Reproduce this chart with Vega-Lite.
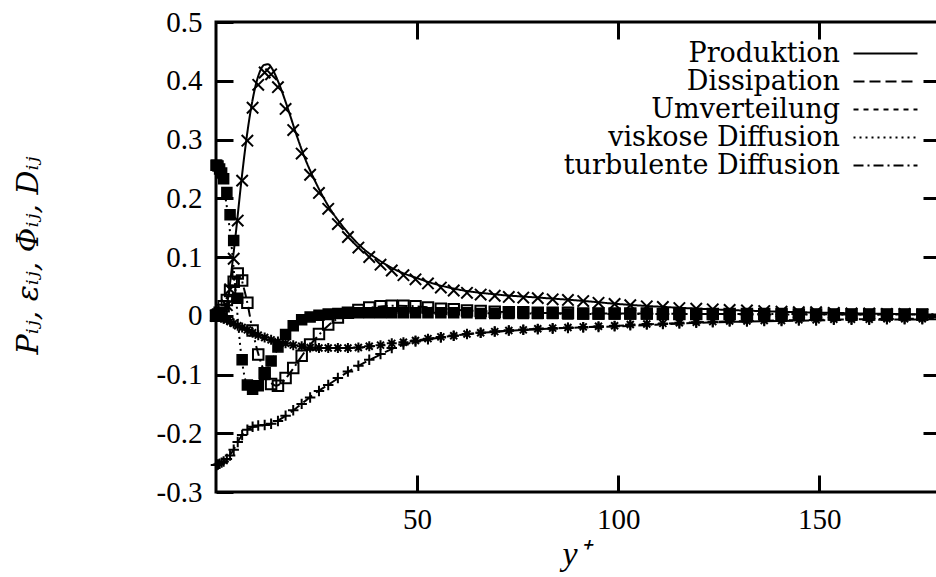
{
  "$schema": "https://vega.github.io/schema/vega-lite/v6.json",
  "autosize": {"type": "none"},
  "padding": {"left": 216, "top": 22, "right": -4, "bottom": 85},
  "width": 724,
  "height": 470,
  "background": "white",
  "config": {
    "view": {"stroke": "black", "strokeWidth": 3, "fill": null},
    "axis": {
      "grid": false,
      "domain": false,
      "tickColor": "black",
      "tickWidth": 3,
      "tickSize": -17,
      "labelFont": "Liberation Serif",
      "labelFontSize": 29,
      "labelColor": "black",
      "titleColor": "black",
      "titleFontWeight": "normal"
    }
  },
  "datasets": {
    "dns": [
      {"yp": 0, "P": 0, "eps": -0.254, "Phi": 0, "Dv": 0.256, "Dt": 0},
      {"yp": 0.2, "P": 0, "eps": -0.254, "Phi": 0, "Dv": 0.256, "Dt": 0},
      {"yp": 0.5, "P": 0, "eps": -0.253, "Phi": -0.001, "Dv": 0.255, "Dt": 0.002},
      {"yp": 0.9, "P": 0.001, "eps": -0.252, "Phi": -0.002, "Dv": 0.25, "Dt": 0.005},
      {"yp": 1.4, "P": 0.003, "eps": -0.25, "Phi": -0.003, "Dv": 0.243, "Dt": 0.01},
      {"yp": 1.9, "P": 0.006, "eps": -0.248, "Phi": -0.005, "Dv": 0.233, "Dt": 0.016},
      {"yp": 2.7, "P": 0.018, "eps": -0.244, "Phi": -0.007, "Dv": 0.21, "Dt": 0.027},
      {"yp": 3.5, "P": 0.045, "eps": -0.238, "Phi": -0.01, "Dv": 0.172, "Dt": 0.042},
      {"yp": 4.4, "P": 0.097, "eps": -0.228, "Phi": -0.013, "Dv": 0.128, "Dt": 0.058},
      {"yp": 5.4, "P": 0.162, "eps": -0.215, "Phi": -0.017, "Dv": 0.03, "Dt": 0.072},
      {"yp": 6.5, "P": 0.23, "eps": -0.203, "Phi": -0.02, "Dv": -0.075, "Dt": 0.06},
      {"yp": 7.8, "P": 0.298, "eps": -0.194, "Phi": -0.024, "Dv": -0.118, "Dt": 0.022},
      {"yp": 9.1, "P": 0.354, "eps": -0.189, "Phi": -0.029, "Dv": -0.125, "Dt": -0.025},
      {"yp": 10.5, "P": 0.393, "eps": -0.187, "Phi": -0.033, "Dv": -0.119, "Dt": -0.066},
      {"yp": 12.1, "P": 0.414, "eps": -0.186, "Phi": -0.037, "Dv": -0.1, "Dt": -0.098},
      {"yp": 13.7, "P": 0.411, "eps": -0.184, "Phi": -0.041, "Dv": -0.077, "Dt": -0.116},
      {"yp": 15.4, "P": 0.389, "eps": -0.179, "Phi": -0.044, "Dv": -0.053, "Dt": -0.119},
      {"yp": 17.3, "P": 0.352, "eps": -0.17, "Phi": -0.047, "Dv": -0.032, "Dt": -0.106},
      {"yp": 19.2, "P": 0.316, "eps": -0.161, "Phi": -0.05, "Dv": -0.017, "Dt": -0.089},
      {"yp": 21.3, "P": 0.276, "eps": -0.15, "Phi": -0.052, "Dv": -0.007, "Dt": -0.068},
      {"yp": 23.4, "P": 0.24, "eps": -0.139, "Phi": -0.054, "Dv": -0.002, "Dt": -0.049},
      {"yp": 25.6, "P": 0.209, "eps": -0.128, "Phi": -0.055, "Dv": 0.001, "Dt": -0.031},
      {"yp": 27.9, "P": 0.182, "eps": -0.118, "Phi": -0.055, "Dv": 0.003, "Dt": -0.015},
      {"yp": 30.3, "P": 0.156, "eps": -0.106, "Phi": -0.055, "Dv": 0.004, "Dt": -0.003},
      {"yp": 32.8, "P": 0.134, "eps": -0.095, "Phi": -0.055, "Dv": 0.005, "Dt": 0.005},
      {"yp": 35.4, "P": 0.116, "eps": -0.085, "Phi": -0.054, "Dv": 0.005, "Dt": 0.01},
      {"yp": 38.1, "P": 0.1, "eps": -0.075, "Phi": -0.052, "Dv": 0.005, "Dt": 0.014},
      {"yp": 40.9, "P": 0.087, "eps": -0.065, "Phi": -0.05, "Dv": 0.005, "Dt": 0.016},
      {"yp": 43.7, "P": 0.077, "eps": -0.055, "Phi": -0.047, "Dv": 0.005, "Dt": 0.017},
      {"yp": 46.6, "P": 0.069, "eps": -0.049, "Phi": -0.045, "Dv": 0.005, "Dt": 0.017},
      {"yp": 49.6, "P": 0.062, "eps": -0.044, "Phi": -0.042, "Dv": 0.005, "Dt": 0.016},
      {"yp": 52.7, "P": 0.055, "eps": -0.04, "Phi": -0.039, "Dv": 0.005, "Dt": 0.014},
      {"yp": 55.9, "P": 0.048, "eps": -0.037, "Phi": -0.036, "Dv": 0.005, "Dt": 0.012},
      {"yp": 59.1, "P": 0.043, "eps": -0.034, "Phi": -0.034, "Dv": 0.005, "Dt": 0.011},
      {"yp": 62.4, "P": 0.039, "eps": -0.031, "Phi": -0.031, "Dv": 0.005, "Dt": 0.009},
      {"yp": 65.8, "P": 0.036, "eps": -0.029, "Phi": -0.029, "Dv": 0.004, "Dt": 0.008},
      {"yp": 69.3, "P": 0.034, "eps": -0.027, "Phi": -0.027, "Dv": 0.004, "Dt": 0.007},
      {"yp": 72.8, "P": 0.032, "eps": -0.025, "Phi": -0.025, "Dv": 0.004, "Dt": 0.006},
      {"yp": 76.4, "P": 0.031, "eps": -0.024, "Phi": -0.024, "Dv": 0.004, "Dt": 0.006},
      {"yp": 80, "P": 0.03, "eps": -0.023, "Phi": -0.022, "Dv": 0.004, "Dt": 0.005},
      {"yp": 83.7, "P": 0.028, "eps": -0.022, "Phi": -0.021, "Dv": 0.004, "Dt": 0.005},
      {"yp": 87.5, "P": 0.027, "eps": -0.021, "Phi": -0.02, "Dv": 0.003, "Dt": 0.005},
      {"yp": 91.3, "P": 0.025, "eps": -0.02, "Phi": -0.019, "Dv": 0.003, "Dt": 0.004},
      {"yp": 95.1, "P": 0.022, "eps": -0.019, "Phi": -0.018, "Dv": 0.003, "Dt": 0.004},
      {"yp": 99.1, "P": 0.02, "eps": -0.018, "Phi": -0.017, "Dv": 0.003, "Dt": 0.004},
      {"yp": 103, "P": 0.018, "eps": -0.016, "Phi": -0.015, "Dv": 0.003, "Dt": 0.004},
      {"yp": 107.1, "P": 0.016, "eps": -0.015, "Phi": -0.014, "Dv": 0.003, "Dt": 0.004},
      {"yp": 111.1, "P": 0.015, "eps": -0.014, "Phi": -0.013, "Dv": 0.003, "Dt": 0.003},
      {"yp": 115.2, "P": 0.013, "eps": -0.013, "Phi": -0.012, "Dv": 0.003, "Dt": 0.003},
      {"yp": 119.4, "P": 0.012, "eps": -0.012, "Phi": -0.011, "Dv": 0.003, "Dt": 0.003},
      {"yp": 123.5, "P": 0.011, "eps": -0.011, "Phi": -0.01, "Dv": 0.003, "Dt": 0.003},
      {"yp": 127.7, "P": 0.01, "eps": -0.01, "Phi": -0.009, "Dv": 0.002, "Dt": 0.003},
      {"yp": 132, "P": 0.009, "eps": -0.01, "Phi": -0.009, "Dv": 0.002, "Dt": 0.003},
      {"yp": 136.3, "P": 0.008, "eps": -0.009, "Phi": -0.008, "Dv": 0.002, "Dt": 0.003},
      {"yp": 140.6, "P": 0.007, "eps": -0.009, "Phi": -0.008, "Dv": 0.002, "Dt": 0.003},
      {"yp": 144.9, "P": 0.006, "eps": -0.008, "Phi": -0.007, "Dv": 0.002, "Dt": 0.002},
      {"yp": 149.2, "P": 0.006, "eps": -0.008, "Phi": -0.007, "Dv": 0.002, "Dt": 0.002},
      {"yp": 153.6, "P": 0.005, "eps": -0.007, "Phi": -0.006, "Dv": 0.002, "Dt": 0.002},
      {"yp": 158, "P": 0.004, "eps": -0.007, "Phi": -0.006, "Dv": 0.002, "Dt": 0.002},
      {"yp": 162.4, "P": 0.004, "eps": -0.007, "Phi": -0.006, "Dv": 0.002, "Dt": 0.002},
      {"yp": 166.8, "P": 0.003, "eps": -0.006, "Phi": -0.005, "Dv": 0.002, "Dt": 0.002},
      {"yp": 171.2, "P": 0.003, "eps": -0.006, "Phi": -0.005, "Dv": 0.002, "Dt": 0.002},
      {"yp": 175.6, "P": 0.002, "eps": -0.006, "Phi": -0.005, "Dv": 0.002, "Dt": 0.002}
    ],
    "modell": [
      {"yp": 0, "P": 0, "eps": -0.254, "Phi": 0, "Dv": 0.256, "Dt": 0},
      {"yp": 1, "P": 0.002, "eps": -0.252, "Phi": -0.002, "Dv": 0.245, "Dt": 0.006},
      {"yp": 2, "P": 0.01, "eps": -0.248, "Phi": -0.005, "Dv": 0.215, "Dt": 0.02},
      {"yp": 3, "P": 0.03, "eps": -0.241, "Phi": -0.008, "Dv": 0.17, "Dt": 0.035},
      {"yp": 4, "P": 0.085, "eps": -0.232, "Phi": -0.012, "Dv": 0.11, "Dt": 0.052},
      {"yp": 5, "P": 0.145, "eps": -0.22, "Phi": -0.015, "Dv": 0.03, "Dt": 0.067},
      {"yp": 6, "P": 0.21, "eps": -0.208, "Phi": -0.019, "Dv": -0.05, "Dt": 0.066},
      {"yp": 7, "P": 0.27, "eps": -0.199, "Phi": -0.022, "Dv": -0.1, "Dt": 0.045},
      {"yp": 8, "P": 0.322, "eps": -0.193, "Phi": -0.025, "Dv": -0.122, "Dt": 0.015},
      {"yp": 9, "P": 0.364, "eps": -0.19, "Phi": -0.028, "Dv": -0.127, "Dt": -0.022},
      {"yp": 10, "P": 0.396, "eps": -0.188, "Phi": -0.031, "Dv": -0.122, "Dt": -0.052},
      {"yp": 11, "P": 0.417, "eps": -0.187, "Phi": -0.034, "Dv": -0.113, "Dt": -0.076},
      {"yp": 12, "P": 0.427, "eps": -0.186, "Phi": -0.037, "Dv": -0.101, "Dt": -0.095},
      {"yp": 13, "P": 0.428, "eps": -0.185, "Phi": -0.039, "Dv": -0.088, "Dt": -0.108},
      {"yp": 14, "P": 0.42, "eps": -0.183, "Phi": -0.041, "Dv": -0.074, "Dt": -0.116},
      {"yp": 15, "P": 0.406, "eps": -0.18, "Phi": -0.043, "Dv": -0.061, "Dt": -0.119},
      {"yp": 16, "P": 0.389, "eps": -0.176, "Phi": -0.045, "Dv": -0.05, "Dt": -0.116},
      {"yp": 18, "P": 0.35, "eps": -0.167, "Phi": -0.048, "Dv": -0.03, "Dt": -0.101},
      {"yp": 20, "P": 0.308, "eps": -0.157, "Phi": -0.051, "Dv": -0.015, "Dt": -0.082},
      {"yp": 22, "P": 0.27, "eps": -0.146, "Phi": -0.053, "Dv": -0.006, "Dt": -0.062},
      {"yp": 25, "P": 0.224, "eps": -0.13, "Phi": -0.055, "Dv": 0, "Dt": -0.037},
      {"yp": 28, "P": 0.186, "eps": -0.117, "Phi": -0.055, "Dv": 0.003, "Dt": -0.016},
      {"yp": 32, "P": 0.148, "eps": -0.099, "Phi": -0.055, "Dv": 0.004, "Dt": 0.002},
      {"yp": 36, "P": 0.118, "eps": -0.083, "Phi": -0.054, "Dv": 0.005, "Dt": 0.011},
      {"yp": 40, "P": 0.097, "eps": -0.069, "Phi": -0.051, "Dv": 0.005, "Dt": 0.015},
      {"yp": 45, "P": 0.077, "eps": -0.053, "Phi": -0.046, "Dv": 0.005, "Dt": 0.017},
      {"yp": 50, "P": 0.064, "eps": -0.044, "Phi": -0.042, "Dv": 0.005, "Dt": 0.016},
      {"yp": 55, "P": 0.053, "eps": -0.038, "Phi": -0.037, "Dv": 0.005, "Dt": 0.013},
      {"yp": 60, "P": 0.045, "eps": -0.033, "Phi": -0.033, "Dv": 0.005, "Dt": 0.01},
      {"yp": 70, "P": 0.036, "eps": -0.027, "Phi": -0.027, "Dv": 0.004, "Dt": 0.007},
      {"yp": 80, "P": 0.031, "eps": -0.023, "Phi": -0.022, "Dv": 0.004, "Dt": 0.005},
      {"yp": 90, "P": 0.026, "eps": -0.02, "Phi": -0.02, "Dv": 0.003, "Dt": 0.004},
      {"yp": 100, "P": 0.02, "eps": -0.018, "Phi": -0.017, "Dv": 0.003, "Dt": 0.004},
      {"yp": 120, "P": 0.012, "eps": -0.012, "Phi": -0.011, "Dv": 0.003, "Dt": 0.003},
      {"yp": 140, "P": 0.007, "eps": -0.009, "Phi": -0.008, "Dv": 0.002, "Dt": 0.003},
      {"yp": 160, "P": 0.004, "eps": -0.007, "Phi": -0.006, "Dv": 0.002, "Dt": 0.002},
      {"yp": 180, "P": 0.002, "eps": -0.006, "Phi": -0.005, "Dv": 0.002, "Dt": 0.002}
    ]
  },
  "layer": [
    {
      "data": {"name": "modell"},
      "transform": [{"fold": ["P", "eps", "Phi", "Dv", "Dt"], "as": ["term", "v"]}],
      "mark": {"type": "line", "color": "black", "stroke": "black", "strokeWidth": 2, "interpolate": "monotone"},
      "encoding": {
        "x": {
          "field": "yp", "type": "quantitative",
          "scale": {"domain": [0, 180], "nice": false, "zero": false},
          "axis": {
            "orient": "bottom", "values": [50, 100, 150], "labelPadding": 30,
            "title": "y⁺", "titleFont": "Liberation Serif", "titleFontStyle": "italic", "titleFontSize": 34,
            "titleX": 359, "titleY": 72, "titleAlign": "center", "titleBaseline": "alphabetic"
          }
        },
        "y": {
          "field": "v", "type": "quantitative",
          "scale": {"domain": [-0.3, 0.5], "nice": false, "zero": false},
          "axis": {
            "orient": "left", "values": [-0.3, -0.2, -0.1, 0, 0.1, 0.2, 0.3, 0.4, 0.5], "labelPadding": 31,
            "labelExpr": "datum.value == 0 ? '0' : (datum.value < 0 ? '-' : '') + format(abs(datum.value), '.1f')",
            "title": "Pᵢⱼ, εᵢⱼ, Φᵢⱼ, Dᵢⱼ", "titleFont": "DejaVu Serif", "titleFontStyle": "italic", "titleFontSize": 30,
            "titleX": -188, "titleY": 233, "titleAngle": -90, "titleAlign": "center", "titleBaseline": "middle"
          }
        },
        "strokeDash": {
          "field": "term", "type": "nominal",
          "scale": {"domain": ["P", "eps", "Phi", "Dv", "Dt"], "range": [[1, 0], [11, 5], [5, 5], [2, 4], [10, 4, 2, 4]]},
          "legend": {
            "orient": "none", "legendX": 655, "legendY": 17, "title": null, "padding": 0,
            "symbolType": "M-2.37,0L2.37,0", "symbolSize": 729, "symbolStrokeWidth": 2, "symbolStrokeColor": "black",
            "symbolFillColor": "transparent",
            "labelAlign": "right", "labelOffset": -60, "labelFont": "DejaVu Serif", "labelFontSize": 27,
            "labelColor": "black", "labelLimit": 0, "rowPadding": 0,
            "labelExpr": "datum.label == 'P' ? 'Produktion' : datum.label == 'eps' ? 'Dissipation' : datum.label == 'Phi' ? 'Umverteilung' : datum.label == 'Dv' ? 'viskose Diffusion' : 'turbulente Diffusion'"
          }
        }
      }
    },
    {
      "data": {"name": "dns"},
      "transform": [{"fold": ["P"], "as": ["reihe", "v"]}],
      "mark": {"type": "point", "shape": "M-1,-1L1,1M-1,1L1,-1", "size": 130, "filled": false, "fill": "transparent", "stroke": "black", "strokeWidth": 2, "opacity": 1},
      "encoding": {
        "x": {
          "field": "yp", "type": "quantitative",
          "axis": {"orient": "top", "values": [50, 100, 150], "labels": false, "title": null}
        },
        "y": {
          "field": "v", "type": "quantitative",
          "axis": {"orient": "right", "values": [-0.2, -0.1, 0, 0.1, 0.2, 0.3, 0.4], "labels": false, "title": null}
        }
      }
    },
    {
      "data": {"name": "dns"},
      "transform": [{"fold": ["eps"], "as": ["reihe", "v"]}],
      "mark": {"type": "point", "shape": "M-1,0L1,0M0,-1L0,1", "size": 110, "filled": false, "fill": "transparent", "stroke": "black", "strokeWidth": 2, "opacity": 1},
      "encoding": {
        "x": {"field": "yp", "type": "quantitative", "axis": null},
        "y": {"field": "v", "type": "quantitative", "axis": null}
      }
    },
    {
      "data": {"name": "dns"},
      "transform": [{"fold": ["Phi"], "as": ["reihe", "v"]}],
      "mark": {"type": "point", "shape": "M-1,0L1,0M0,-1L0,1M-0.7,-0.7L0.7,0.7M-0.7,0.7L0.7,-0.7", "size": 100, "filled": false, "fill": "transparent", "stroke": "black", "strokeWidth": 2, "opacity": 1},
      "encoding": {
        "x": {"field": "yp", "type": "quantitative", "axis": null},
        "y": {"field": "v", "type": "quantitative", "axis": null}
      }
    },
    {
      "data": {"name": "dns"},
      "transform": [{"fold": ["Dv"], "as": ["reihe", "v"]}],
      "mark": {"type": "point", "shape": "square", "size": 100, "filled": true, "fill": "black", "stroke": "black", "strokeWidth": 1.5, "opacity": 1},
      "encoding": {
        "x": {"field": "yp", "type": "quantitative", "axis": null},
        "y": {"field": "v", "type": "quantitative", "axis": null}
      }
    },
    {
      "data": {"name": "dns"},
      "transform": [{"fold": ["Dt"], "as": ["reihe", "v"]}],
      "mark": {"type": "point", "shape": "square", "size": 110, "filled": false, "fill": "transparent", "stroke": "black", "strokeWidth": 2, "opacity": 1},
      "encoding": {
        "x": {"field": "yp", "type": "quantitative", "axis": null},
        "y": {"field": "v", "type": "quantitative", "axis": null}
      }
    }
  ],
  "resolve": {"axis": {"x": "independent", "y": "independent"}}
}
